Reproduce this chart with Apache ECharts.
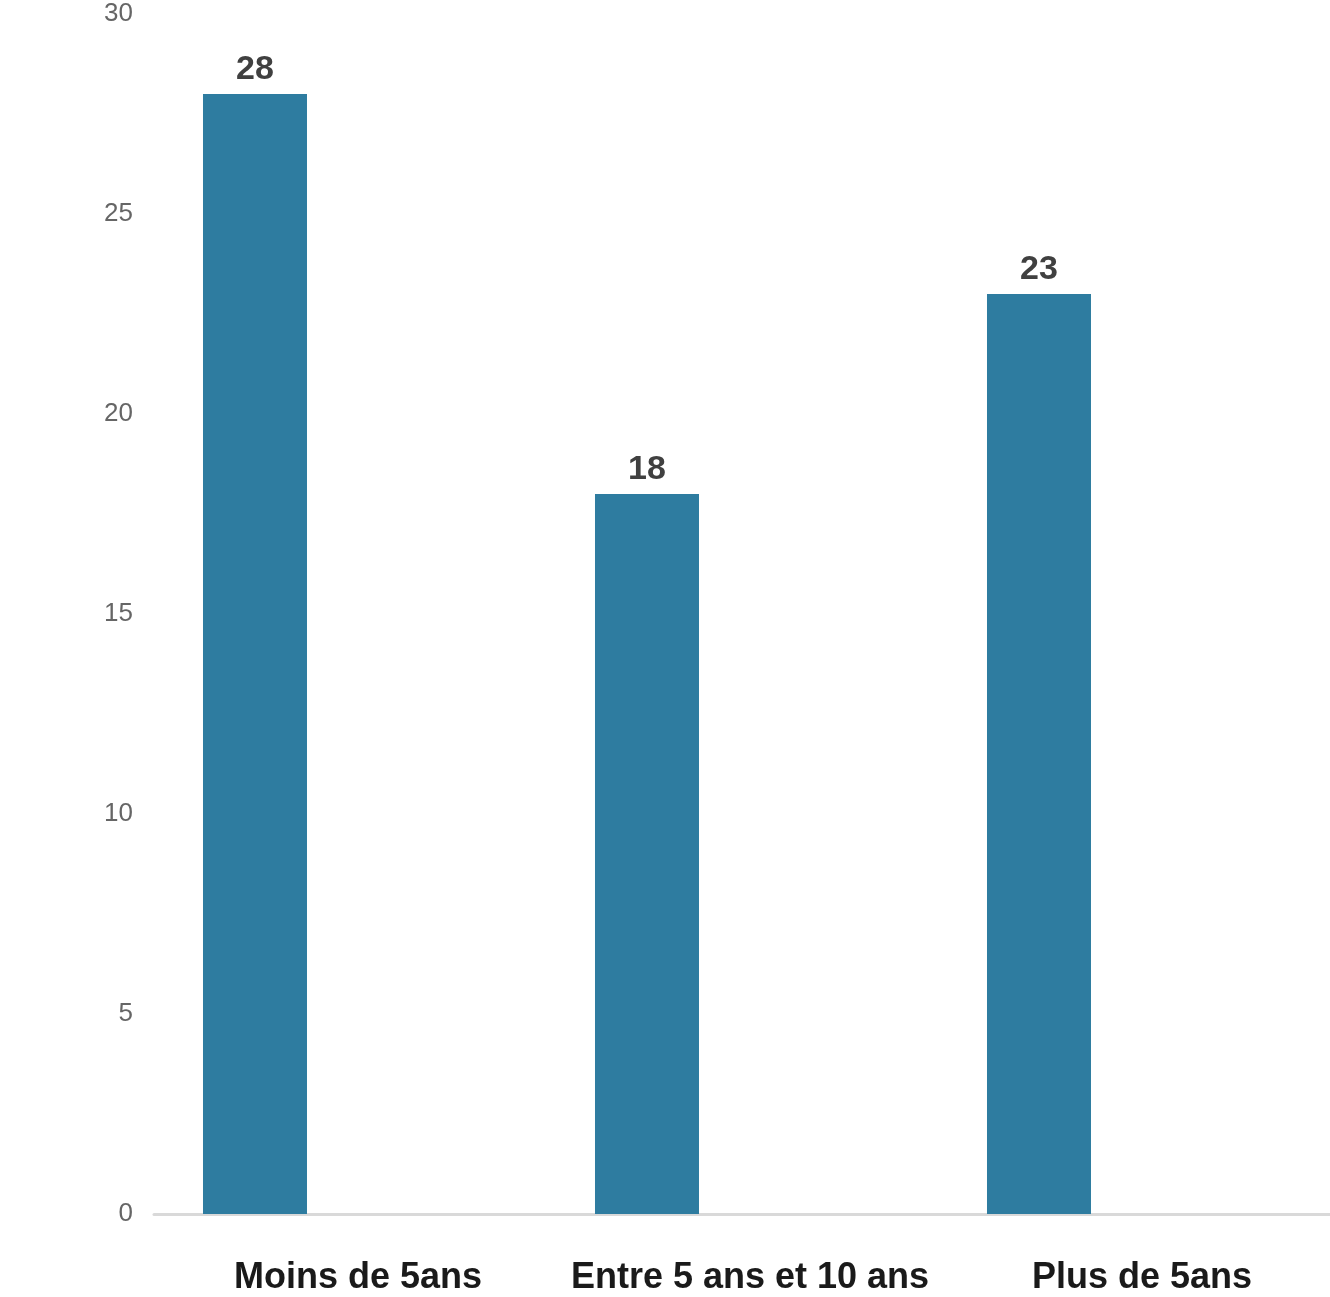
<!DOCTYPE html>
<html>
<head>
<meta charset="utf-8">
<script src="https://cdn.jsdelivr.net/npm/echarts@6/dist/echarts.min.js"></script>
<style>html,body{margin:0;padding:0;background:#fff}#c{width:1330px;height:1297px}</style>
</head>
<body>
<div id="c"></div>
<script>
const categories = ["Moins de 5ans", "Entre 5 ans et 10 ans", "Plus de 5ans"];
const values = [28, 18, 23];
const emptyValues = [null, null, null];
const yMin = 0, yMax = 30, yInterval = 5;

const chart = echarts.init(document.getElementById('c'));
chart.setOption({
  animation: false,
  backgroundColor: '#ffffff',
  grid: { left: 154, right: 0, top: 14, bottom: 83, containLabel: false },
  xAxis: {
    type: 'category',
    data: categories,
    axisLine: { show: true, lineStyle: { color: '#d9d9d9', width: 3 } },
    axisTick: { show: false },
    axisLabel: {
      interval: 0, margin: 46, color: '#1a1a1a', fontSize: 36, fontWeight: 'bold',
      padding: [0, 0, 0, 16],
      fontFamily: 'Liberation Sans, Arial, sans-serif'
    }
  },
  yAxis: {
    type: 'value', min: yMin, max: yMax, interval: yInterval,
    axisLine: { show: false }, axisTick: { show: false },
    splitLine: { show: false },
    axisLabel: { margin: 21, color: '#666666', fontSize: 26, padding: [6, 0, 0, 0], fontFamily: 'Liberation Sans, Arial, sans-serif' }
  },
  series: [
    {
      type: 'bar', data: values, barWidth: 104, barGap: '82.7%',
      itemStyle: { color: '#2e7ca0' },
      label: {
        show: true, position: 'top', distance: 7, color: '#404040',
        fontSize: 34, fontWeight: 'bold', fontFamily: 'Liberation Sans, Arial, sans-serif'
      }
    },
    { type: 'bar', data: emptyValues, barWidth: 104, itemStyle: { color: 'transparent' } }
  ]
});
</script>
</body>
</html>
